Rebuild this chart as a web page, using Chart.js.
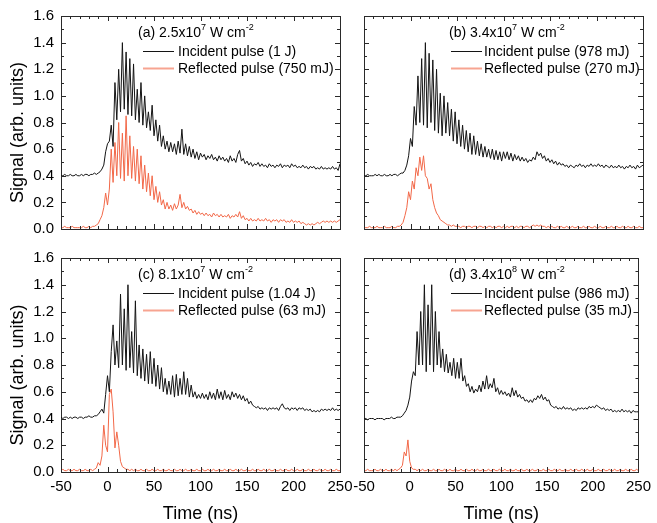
<!DOCTYPE html>
<html>
<head>
<meta charset="utf-8">
<script src="https://cdn.jsdelivr.net/npm/chart.js@4.4.1/dist/chart.umd.min.js"></script>
<style>
html,body{margin:0;padding:0;background:#fff;}
#wrap{position:relative;width:657px;height:523px;overflow:hidden;}
canvas{position:absolute;left:0;top:0;}
</style>
</head>
<body>
<div id="wrap">
<canvas id="c0" width="657" height="523"></canvas>
<canvas id="c1" width="657" height="523"></canvas>
<canvas id="c2" width="657" height="523"></canvas>
<canvas id="c3" width="657" height="523"></canvas>
</div>
<script>
// ---------- DATA ----------
const time = [
-50,-48,-46,-44,-42,-40,-38,-36,-34,-32,
-30,-28,-26,-24,-22,-20,-18,-16,-14,-12,
-10,-8,-6,-4,-2,0,2,4,6,8,
10,12,14,16,18,20,22,24,26,28,
30,32,34,36,38,40,42,44,46,48,
50,52,54,56,58,60,62,64,66,68,
70,72,74,76,78,80,82,84,86,88,
90,92,94,96,98,100,102,104,106,108,
110,112,114,116,118,120,122,124,126,128,
130,132,134,136,138,140,142,144,146,148,
150,152,154,156,158,160,162,164,166,168,
170,172,174,176,178,180,182,184,186,188,
190,192,194,196,198,200,202,204,206,208,
210,212,214,216,218,220,222,224,226,228,
230,232,234,236,238,240,242,244,246,248,
250];

const incidentA = [
0.40,0.40,0.41,0.40,0.40,0.41,0.40,0.40,0.41,0.40,
0.40,0.41,0.40,0.41,0.41,0.40,0.41,0.41,0.42,0.41,
0.42,0.43,0.45,0.48,0.58,0.64,0.66,0.78,0.62,1.10,
0.82,1.20,0.88,1.40,0.90,1.33,0.86,1.28,0.85,1.24,
0.82,1.05,0.80,1.10,0.78,1.00,0.76,0.88,0.74,0.93,
0.70,0.82,0.66,0.78,0.62,0.70,0.60,0.66,0.58,0.65,
0.58,0.64,0.56,0.66,0.57,0.75,0.56,0.64,0.55,0.62,
0.54,0.60,0.53,0.58,0.52,0.57,0.54,0.56,0.52,0.55,
0.53,0.56,0.52,0.54,0.51,0.55,0.52,0.54,0.51,0.53,
0.50,0.55,0.51,0.53,0.50,0.56,0.59,0.51,0.53,0.49,
0.51,0.48,0.50,0.47,0.49,0.48,0.50,0.47,0.49,0.47,
0.48,0.46,0.49,0.47,0.48,0.46,0.48,0.47,0.49,0.46,
0.48,0.47,0.48,0.46,0.49,0.47,0.48,0.46,0.47,0.46,
0.48,0.46,0.47,0.45,0.47,0.46,0.47,0.45,0.46,0.45,
0.47,0.45,0.46,0.45,0.46,0.45,0.47,0.45,0.46,0.44,
0.49];
const reflectedA = [
0.01,0.01,0.02,0.01,0.01,0.01,0.02,0.01,0.01,0.01,
0.01,0.01,0.02,0.01,0.01,0.02,0.01,0.02,0.02,0.03,
0.04,0.07,0.10,0.16,0.27,0.18,0.30,0.60,0.35,0.65,
0.40,0.80,0.38,0.72,0.36,0.85,0.40,0.70,0.38,0.62,
0.36,0.60,0.34,0.55,0.30,0.48,0.28,0.42,0.25,0.40,
0.22,0.32,0.20,0.28,0.18,0.22,0.15,0.20,0.15,0.18,
0.14,0.19,0.15,0.18,0.26,0.16,0.20,0.15,0.17,0.14,
0.15,0.12,0.14,0.11,0.13,0.11,0.12,0.10,0.12,0.10,
0.11,0.09,0.12,0.10,0.11,0.09,0.11,0.09,0.10,0.09,
0.11,0.08,0.10,0.09,0.11,0.09,0.13,0.08,0.10,0.07,
0.08,0.06,0.08,0.06,0.07,0.06,0.08,0.06,0.07,0.06,
0.08,0.06,0.07,0.05,0.07,0.06,0.07,0.05,0.07,0.06,
0.07,0.05,0.06,0.05,0.07,0.05,0.06,0.05,0.06,0.04,
0.05,0.04,0.03,0.04,0.03,0.04,0.03,0.04,0.05,0.04,
0.05,0.06,0.05,0.06,0.05,0.06,0.05,0.06,0.05,0.06,
0.07];

const incidentB = [
0.40,0.40,0.41,0.40,0.40,0.40,0.41,0.40,0.41,0.40,
0.40,0.41,0.40,0.40,0.41,0.40,0.41,0.41,0.40,0.41,
0.42,0.42,0.44,0.48,0.55,0.68,0.62,0.92,0.78,1.15,
0.80,1.28,0.78,1.40,0.76,1.32,0.80,1.27,0.74,1.20,
0.72,1.02,0.70,1.00,0.72,0.95,0.70,0.90,0.66,0.88,
0.64,0.82,0.62,0.78,0.60,0.74,0.58,0.72,0.56,0.70,
0.56,0.66,0.55,0.64,0.54,0.62,0.54,0.60,0.53,0.60,
0.52,0.59,0.52,0.58,0.51,0.58,0.53,0.58,0.52,0.57,
0.51,0.56,0.52,0.55,0.51,0.54,0.51,0.53,0.50,0.52,
0.51,0.54,0.52,0.58,0.55,0.57,0.53,0.55,0.51,0.53,
0.50,0.52,0.49,0.51,0.48,0.50,0.48,0.49,0.47,0.48,
0.46,0.48,0.47,0.46,0.48,0.47,0.49,0.47,0.48,0.46,
0.48,0.47,0.49,0.47,0.48,0.47,0.49,0.47,0.48,0.46,
0.48,0.47,0.46,0.48,0.46,0.47,0.46,0.48,0.46,0.47,
0.45,0.47,0.46,0.48,0.46,0.47,0.45,0.48,0.46,0.47,
0.48];
const reflectedB = [
0.01,0.01,0.01,0.02,0.01,0.01,0.01,0.02,0.01,0.01,
0.01,0.02,0.01,0.01,0.01,0.02,0.01,0.01,0.02,0.02,
0.03,0.05,0.10,0.16,0.28,0.22,0.36,0.30,0.46,0.40,
0.54,0.44,0.55,0.40,0.38,0.30,0.34,0.22,0.16,0.12,
0.10,0.07,0.06,0.05,0.04,0.03,0.03,0.02,0.03,0.02,
0.02,0.02,0.01,0.02,0.02,0.01,0.02,0.02,0.01,0.02,
0.02,0.01,0.02,0.02,0.01,0.02,0.01,0.02,0.02,0.01,
0.02,0.01,0.02,0.02,0.01,0.02,0.01,0.02,0.01,0.02,
0.02,0.01,0.02,0.01,0.02,0.02,0.01,0.02,0.02,0.01,
0.02,0.03,0.02,0.03,0.02,0.03,0.02,0.02,0.01,0.02,
0.01,0.02,0.01,0.01,0.02,0.01,0.02,0.01,0.01,0.02,
0.01,0.01,0.02,0.01,0.01,0.02,0.01,0.01,0.02,0.01,
0.01,0.02,0.01,0.01,0.02,0.01,0.01,0.02,0.01,0.01,
0.02,0.01,0.01,0.02,0.01,0.01,0.02,0.01,0.01,0.02,
0.01,0.01,0.02,0.01,0.01,0.02,0.01,0.01,0.02,0.01,
0.01];

const incidentC = [
0.41,0.40,0.41,0.41,0.40,0.41,0.40,0.41,0.41,0.40,
0.41,0.41,0.40,0.41,0.41,0.42,0.41,0.41,0.42,0.42,
0.43,0.45,0.47,0.44,0.58,0.72,0.60,0.90,1.10,0.80,
0.98,0.78,1.33,0.80,1.22,0.76,1.40,0.78,1.05,0.74,
1.28,0.72,0.95,0.70,0.92,0.68,0.88,0.66,0.90,0.66,
0.85,0.64,0.80,0.62,0.78,0.60,0.70,0.58,0.68,0.58,
0.72,0.56,0.73,0.57,0.70,0.58,0.75,0.58,0.70,0.56,
0.65,0.56,0.60,0.55,0.58,0.55,0.59,0.55,0.58,0.54,
0.60,0.55,0.59,0.54,0.62,0.55,0.60,0.54,0.61,0.55,
0.58,0.54,0.60,0.56,0.59,0.55,0.58,0.54,0.57,0.53,
0.55,0.51,0.53,0.50,0.49,0.48,0.49,0.47,0.48,0.47,
0.48,0.46,0.48,0.47,0.48,0.47,0.48,0.46,0.49,0.51,
0.48,0.47,0.48,0.46,0.48,0.47,0.48,0.46,0.48,0.47,
0.48,0.46,0.47,0.46,0.47,0.45,0.46,0.45,0.46,0.45,
0.47,0.46,0.47,0.46,0.47,0.46,0.48,0.46,0.47,0.46,
0.47];
const reflectedC = [
0.01,0.02,0.01,0.01,0.02,0.01,0.01,0.02,0.01,0.01,
0.02,0.01,0.01,0.02,0.01,0.01,0.02,0.01,0.02,0.03,
0.07,0.05,0.12,0.35,0.20,0.15,0.58,0.62,0.45,0.18,
0.30,0.20,0.08,0.04,0.03,0.02,0.02,0.01,0.02,0.01,
0.02,0.01,0.01,0.02,0.01,0.01,0.02,0.01,0.01,0.02,
0.01,0.01,0.02,0.01,0.01,0.02,0.01,0.01,0.02,0.01,
0.01,0.02,0.01,0.01,0.02,0.01,0.01,0.02,0.01,0.01,
0.02,0.01,0.01,0.02,0.01,0.01,0.02,0.01,0.01,0.02,
0.01,0.01,0.02,0.01,0.01,0.02,0.01,0.01,0.02,0.01,
0.01,0.02,0.01,0.01,0.02,0.01,0.01,0.02,0.01,0.01,
0.02,0.01,0.01,0.02,0.01,0.01,0.02,0.01,0.01,0.02,
0.01,0.01,0.02,0.01,0.01,0.02,0.01,0.01,0.02,0.01,
0.01,0.02,0.01,0.01,0.02,0.01,0.01,0.02,0.01,0.01,
0.02,0.01,0.01,0.02,0.01,0.01,0.02,0.01,0.01,0.02,
0.01,0.01,0.02,0.01,0.01,0.02,0.01,0.01,0.02,0.01,
0.01];

const incidentD = [
0.40,0.40,0.39,0.40,0.40,0.40,0.39,0.40,0.40,0.40,
0.40,0.39,0.40,0.40,0.40,0.41,0.40,0.40,0.41,0.41,
0.41,0.42,0.44,0.46,0.50,0.56,0.68,0.75,0.72,1.05,
0.80,1.20,0.80,1.40,0.75,1.25,0.80,1.40,0.75,1.20,
0.80,1.05,0.78,0.92,0.75,0.88,0.74,0.82,0.72,0.85,
0.70,0.82,0.70,0.85,0.68,0.72,0.64,0.66,0.60,0.64,
0.59,0.62,0.60,0.65,0.60,0.68,0.62,0.72,0.62,0.66,
0.63,0.70,0.60,0.63,0.58,0.61,0.58,0.60,0.57,0.59,
0.56,0.63,0.57,0.61,0.56,0.58,0.55,0.56,0.53,0.54,
0.52,0.54,0.52,0.55,0.54,0.57,0.55,0.58,0.54,0.56,
0.53,0.54,0.50,0.49,0.48,0.49,0.47,0.48,0.47,0.49,
0.47,0.48,0.47,0.48,0.46,0.47,0.46,0.48,0.47,0.48,
0.47,0.48,0.47,0.49,0.48,0.49,0.48,0.50,0.49,0.48,
0.47,0.48,0.46,0.47,0.46,0.47,0.45,0.46,0.45,0.46,
0.45,0.47,0.45,0.46,0.45,0.46,0.44,0.46,0.45,0.45,
0.45];
const reflectedD = [
0.01,0.01,0.02,0.01,0.01,0.01,0.02,0.01,0.01,0.02,
0.01,0.01,0.02,0.01,0.01,0.02,0.01,0.02,0.01,0.02,
0.03,0.05,0.15,0.12,0.24,0.08,0.03,0.02,0.02,0.01,
0.02,0.01,0.02,0.01,0.01,0.02,0.01,0.01,0.02,0.01,
0.01,0.02,0.01,0.01,0.02,0.01,0.01,0.02,0.01,0.01,
0.02,0.01,0.01,0.02,0.01,0.01,0.02,0.01,0.01,0.02,
0.01,0.01,0.02,0.01,0.01,0.02,0.01,0.01,0.02,0.01,
0.01,0.02,0.01,0.01,0.02,0.01,0.01,0.02,0.01,0.01,
0.02,0.01,0.01,0.02,0.01,0.01,0.02,0.01,0.01,0.02,
0.01,0.01,0.02,0.01,0.01,0.02,0.01,0.01,0.02,0.01,
0.01,0.02,0.01,0.01,0.02,0.01,0.01,0.02,0.01,0.01,
0.02,0.01,0.01,0.02,0.01,0.01,0.02,0.01,0.01,0.02,
0.01,0.01,0.02,0.01,0.01,0.02,0.01,0.01,0.02,0.01,
0.01,0.02,0.01,0.01,0.02,0.01,0.01,0.02,0.01,0.01,
0.02,0.01,0.01,0.02,0.01,0.01,0.02,0.01,0.01,0.02,
0.01];

const panelLetters = ['(a)', '(b)', '(c)', '(d)'];
const intensityBase = ['2.5', '3.4', '8.1', '3.4'];
const intensityExp = ['7', '7', '7', '8'];
const incidentEnergy = ['1 J', '978 mJ', '1.04 J', '986 mJ'];
const reflectedEnergy = ['750 mJ', '270 mJ', '63 mJ', '35 mJ'];

const xMajorTicks = [-50, 0, 50, 100, 150, 200, 250];
const xMinorTicks = [-40,-30,-20,-10,10,20,30,40,60,70,80,90,110,120,130,140,160,170,180,190,210,220,230,240];
const yMajorTicks = [0, 0.2, 0.4, 0.6, 0.8, 1.0, 1.2, 1.4, 1.6];
const yMajorLabels = ['0.0', '0.2', '0.4', '0.6', '0.8', '1.0', '1.2', '1.4', '1.6'];
const yMinorTicks = [0.1, 0.3, 0.5, 0.7, 0.9, 1.1, 1.3, 1.5];

// ---------- LAYOUT / STYLE ----------
const W = 657, H = 523;
const FONT = "'Liberation Sans', Arial, Helvetica, sans-serif";
const INC_COLOR = '#141414';
const REF_COLOR = 'rgb(242,104,72)';
const AXIS_COLOR = '#2a2a2a';
const MAJOR_LEN = 5, MINOR_LEN = 3;

const panels = [
  {inc: incidentA, ref: reflectedA, area: {l: 61, r: 340, t: 16, b: 229}, xLab: false, yLab: true,  leg: {title: 77, l1: 82, l2: 113, text: 117}},
  {inc: incidentB, ref: reflectedB, area: {l: 364, r: 643, t: 16, b: 229}, xLab: false, yLab: false, leg: {title: 85, l1: 87, l2: 118, text: 120}},
  {inc: incidentC, ref: reflectedC, area: {l: 61, r: 340, t: 258, b: 472}, xLab: true, yLab: true,  leg: {title: 77, l1: 82, l2: 113, text: 117}},
  {inc: incidentD, ref: reflectedD, area: {l: 364, r: 643, t: 258, b: 472}, xLab: true, yLab: false, leg: {title: 85, l1: 87, l2: 118, text: 120}}
];

// inward tick marks on all four sides, positioned through the chart's scales
const innerTicksPlugin = {
  id: 'innerTicks',
  afterDatasetsDraw(chart) {
    const ctx = chart.ctx;
    const ca = chart.chartArea;
    const xs = chart.scales.x, ys = chart.scales.y;
    ctx.save();
    ctx.strokeStyle = AXIS_COLOR;
    ctx.lineWidth = 1;
    ctx.beginPath();
    const vTick = (v, len) => {
      const px = Math.round(xs.getPixelForValue(v)) + 0.5;
      ctx.moveTo(px, ca.bottom); ctx.lineTo(px, ca.bottom - len);
      ctx.moveTo(px, ca.top); ctx.lineTo(px, ca.top + len);
    };
    const hTick = (v, len) => {
      const py = Math.round(ys.getPixelForValue(v)) + 0.5;
      ctx.moveTo(ca.left, py); ctx.lineTo(ca.left + len, py);
      ctx.moveTo(ca.right, py); ctx.lineTo(ca.right - len, py);
    };
    xMajorTicks.forEach(v => vTick(v, MAJOR_LEN));
    xMinorTicks.forEach(v => vTick(v, MINOR_LEN));
    yMajorTicks.forEach(v => hTick(v, MAJOR_LEN));
    yMinorTicks.forEach(v => hTick(v, MINOR_LEN));
    ctx.stroke();
    ctx.restore();
  }
};

const legendPlugin = {
  id: 'panelLegend',
  afterDatasetsDraw(chart, args, opts) {
    const ctx = chart.ctx;
    const ca = chart.chartArea;
    const i = opts.index;
    const lg = opts.leg;
    ctx.save();
    ctx.fillStyle = '#000';
    ctx.textAlign = 'left';
    ctx.textBaseline = 'middle';
    const big = '14px ' + FONT;
    const small = '9px ' + FONT;
    let x = ca.left + lg.title;
    const y = ca.top + 17;
    const parts = [
      [panelLetters[i] + ' ' + intensityBase[i] + 'x10', big, 0],
      [intensityExp[i], small, -5],
      [' W cm', big, 0],
      ['-2', small, -5]
    ];
    for (const [txt, f, dy] of parts) {
      ctx.font = f;
      ctx.fillText(txt, x, y + dy);
      x += ctx.measureText(txt).width;
    }
    const rows = [35, 52];
    chart.data.datasets.forEach((ds, k) => {
      const yy = ca.top + rows[k];
      ctx.strokeStyle = k === 0 ? ds.borderColor : 'rgba(242,104,72,0.6)';
      ctx.lineWidth = k === 0 ? 1 : 2;
      ctx.beginPath();
      ctx.moveTo(ca.left + lg.l1, Math.round(yy) + 0.5);
      ctx.lineTo(ca.left + lg.l2, Math.round(yy) + 0.5);
      ctx.stroke();
      ctx.font = big;
      ctx.fillText(ds.label, ca.left + lg.text, yy + 1);
    });
    ctx.restore();
  }
};

function makeChart(idx) {
  const p = panels[idx];
  const a = p.area;
  const tickFont = {family: FONT, size: 15};
  const titleFont = {family: FONT, size: 18, lineHeight: 1};
  const noGrid = {drawOnChartArea: false, drawTicks: false};
  const frame = {display: true, color: AXIS_COLOR, width: 1};
  const scales = {
    x: {
      type: 'linear', position: 'bottom', min: -50, max: 250,
      afterBuildTicks: s => { s.ticks = xMajorTicks.map(v => ({value: v})); },
      afterFit: s => { s.height = H - a.b; },
      ticks: {display: p.xLab, autoSkip: false, maxRotation: 0, padding: 6, font: tickFont, color: '#000', callback: v => String(v)},
      grid: noGrid,
      border: frame,
      title: {display: p.xLab, text: 'Time (ns)', font: titleFont, color: '#000', padding: {top: 0, bottom: 0}}
    },
    xTop: {
      type: 'linear', axis: 'x', position: 'top', min: -50, max: 250,
      afterFit: s => { s.height = a.t; },
      ticks: {display: false},
      grid: noGrid,
      border: frame
    },
    y: {
      type: 'linear', position: 'left', min: 0, max: 1.6,
      afterBuildTicks: s => { s.ticks = yMajorTicks.map(v => ({value: v})); },
      afterFit: s => { s.width = a.l; },
      ticks: {display: p.yLab, autoSkip: false, padding: 7, font: tickFont, color: '#000',
              callback: (v, i) => yMajorLabels[i]},
      grid: noGrid,
      border: frame,
      title: {display: p.yLab, text: 'Signal (arb. units)    ', font: titleFont, color: '#000', padding: {top: 9, bottom: 0}}
    },
    yRight: {
      type: 'linear', axis: 'y', position: 'right', min: 0, max: 1.6,
      afterFit: s => { s.width = W - a.r; },
      ticks: {display: false},
      grid: noGrid,
      border: frame
    }
  };
  return new Chart(document.getElementById('c' + idx), {
    type: 'line',
    data: {
      datasets: [
        {label: 'Incident pulse (' + incidentEnergy[idx] + ')', data: time.map((t, i) => ({x: t, y: p.inc[i]})),
         borderColor: INC_COLOR, borderWidth: 1, pointRadius: 0, tension: 0, fill: false, xAxisID: 'x', yAxisID: 'y'},
        {label: 'Reflected pulse (' + reflectedEnergy[idx] + ')', data: time.map((t, i) => ({x: t, y: p.ref[i]})),
         borderColor: REF_COLOR, borderWidth: 1, pointRadius: 0, tension: 0, fill: false, xAxisID: 'x', yAxisID: 'y'}
      ]
    },
    options: {
      responsive: false,
      animation: false,
      events: [],
      layout: {padding: 0},
      plugins: {
        legend: {display: false},
        tooltip: {enabled: false},
        panelLegend: {index: idx, leg: p.leg}
      },
      scales: scales
    },
    plugins: [innerTicksPlugin, legendPlugin]
  });
}

Chart.defaults.font.family = FONT;
for (let i = 0; i < 4; i++) makeChart(i);
</script>
</body>
</html>
